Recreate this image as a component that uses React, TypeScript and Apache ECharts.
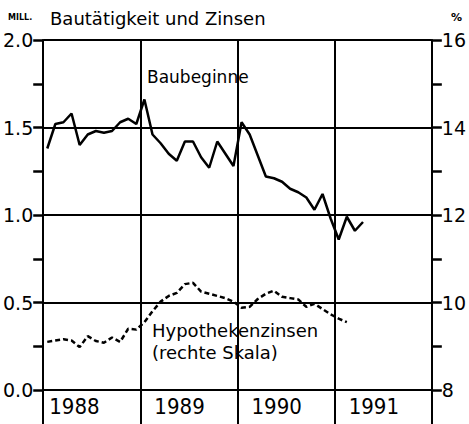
import React, { useEffect, useRef } from "react";
import * as echarts from "echarts";

// Monthly values, Jan 1988 onwards
const years = ["1988", "1989", "1990", "1991"];
const housingStarts = [
  1.38, 1.52, 1.53, 1.58, 1.40, 1.46, 1.48, 1.47, 1.48, 1.53, 1.55, 1.52,
  1.66, 1.46, 1.41, 1.35, 1.31, 1.42, 1.42, 1.33, 1.27, 1.42, 1.35, 1.28,
  1.53, 1.46, 1.34, 1.22, 1.21, 1.19, 1.15, 1.13, 1.10, 1.03, 1.12, 0.98,
  0.86, 0.99, 0.91, 0.96,
];
const mortgageRates = [
  9.10, 9.13, 9.16, 9.13, 8.98, 9.23, 9.12, 9.08, 9.20, 9.10, 9.40, 9.38,
  9.55, 9.80, 10.02, 10.15, 10.22, 10.42, 10.45, 10.25, 10.20, 10.15, 10.10, 10.02,
  9.88, 9.90, 10.08, 10.20, 10.27, 10.13, 10.10, 10.07, 9.90, 9.97, 9.85, 9.73,
  9.63, 9.55,
];
const leftTicks = [0, 0.5, 1.0, 1.5, 2.0];
const rightTicks = [8, 10, 12, 14, 16];

const FONT = "'DejaVu Sans', sans-serif";
const COND = "'DejaVu Sans Condensed', 'DejaVu Sans', sans-serif";

export default function App() {
  const ref = useRef<HTMLDivElement>(null);
  useEffect(() => {
    if (!ref.current) return;
    const chart = echarts.init(ref.current, null, { renderer: "svg" });
    const toXY = (arr: number[]) => arr.map((v, i) => [i + 0.5, v]);
    const axisLine = { show: true, onZero: false, lineStyle: { color: "#000", width: 2 } };
    const tick = { show: true, inside: false, length: 10, lineStyle: { color: "#000", width: 2.5 } };
    const isMajor = (v: number, step: number) => Math.abs(v / step - Math.round(v / step)) < 1e-6;
    chart.setOption({
      animation: false,
      backgroundColor: "#fff",
      grid: { left: 43, right: 31, top: 40, bottom: 34, containLabel: false },
      xAxis: {
        type: "value",
        min: 0,
        max: years.length * 12,
        interval: 12,
        axisLine,
        axisTick: { show: true, length: 34, lineStyle: { color: "#000", width: 2 } },
        splitLine: { show: true, lineStyle: { color: "#000", width: 2 } },
        axisLabel: {
          margin: 5,
          formatter: (v: number) => {
            const idx = Math.round(v / 12);
            if (idx >= years.length) return "";
            return idx === 0 ? `{a|${years[idx]}}` : `{b|${years[idx]}}`;
          },
          align: "left",
          rich: {
            a: { fontFamily: COND, fontSize: 22, color: "#000", padding: [0, 0, 0, 6] },
            b: { fontFamily: COND, fontSize: 22, color: "#000", padding: [0, 0, 0, 14] },
          },
        },
      },
      yAxis: [
        {
          type: "value",
          min: leftTicks[0],
          max: leftTicks[leftTicks.length - 1],
          interval: 0.25,
          axisLine,
          axisTick: tick,
          splitLine: { show: true, lineStyle: { color: ["#000", "rgba(0,0,0,0)"], width: 2 } },
          axisLabel: {
            margin: 10,
            fontFamily: FONT,
            fontSize: 19,
            color: "#000",
            formatter: (v: number) => (isMajor(v, 0.5) ? v.toFixed(1) : ""),
          },
        },
        {
          type: "value",
          position: "right",
          min: rightTicks[0],
          max: rightTicks[rightTicks.length - 1],
          interval: 1,
          axisLine,
          axisTick: tick,
          splitLine: { show: false },
          axisLabel: {
            margin: 10,
            fontFamily: FONT,
            fontSize: 19,
            color: "#000",
            formatter: (v: number) => (isMajor(v, 2) ? String(v) : ""),
          },
        },
      ],
      series: [
        {
          name: "Baubeginne",
          type: "line",
          data: toXY(housingStarts),
          yAxisIndex: 0,
          showSymbol: false,
          lineStyle: { color: "#000", width: 2.5 },
        },
        {
          name: "Hypothekenzinsen",
          type: "line",
          data: toXY(mortgageRates),
          yAxisIndex: 1,
          showSymbol: false,
          lineStyle: { color: "#000", width: 2.5, type: [5, 3] },
        },
      ],
      graphic: [
        { type: "text", left: 8, top: 13, style: { text: "MILL.", fontFamily: FONT, fontSize: 8, fontWeight: "bold", fill: "#000" } },
        { type: "text", left: 50, top: 9, style: { text: "Bautätigkeit und Zinsen", fontFamily: FONT, fontSize: 18, fill: "#000" } },
        { type: "text", left: 451, top: 12, style: { text: "%", fontFamily: FONT, fontSize: 11, fontWeight: "bold", fill: "#000" } },
        { type: "text", left: 147, top: 68, style: { text: "Baubeginne", fontFamily: FONT, fontSize: 17, fill: "#000" } },
        { type: "text", left: 152, top: 321, style: { text: "Hypothekenzinsen", fontFamily: FONT, fontSize: 18, fill: "#000" } },
        { type: "text", left: 152, top: 343, style: { text: "(rechte Skala)", fontFamily: FONT, fontSize: 18, fill: "#000" } },
      ],
    });
    return () => chart.dispose();
  }, []);
  return (
    <div
      ref={ref}
      style={{ position: "fixed", left: 0, top: 0, width: 469, height: 424, background: "#fff" }}
    />
  );
}
